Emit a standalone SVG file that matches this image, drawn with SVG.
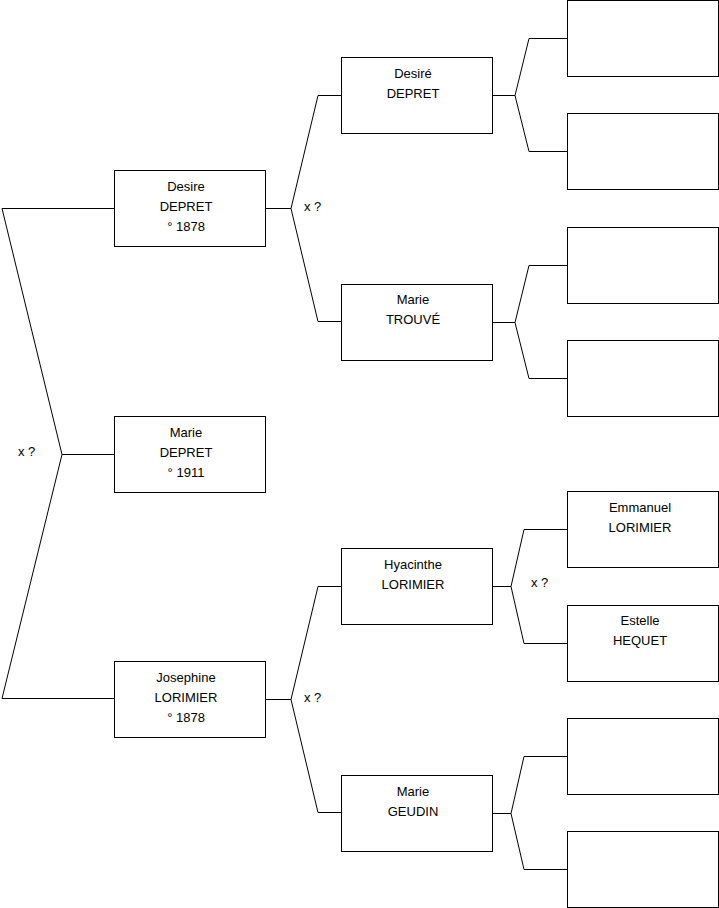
<svg xmlns="http://www.w3.org/2000/svg" width="719" height="908" viewBox="0 0 719 908">
<style>
.box{fill:#fff;stroke:#000;stroke-width:1}
.c{fill:none;stroke:#000;stroke-width:1}
text{font-family:"Liberation Sans",Arial,sans-serif;font-size:13px;fill:#000}
.m{text-anchor:middle}
</style>
<rect width="719" height="908" fill="#fff"/>
<g id="connectors">
<polyline class="c" points="114,208.5 2,208.5 62,454.5 2,698.5 114,698.5"/>
<line class="c" x1="62" y1="454.5" x2="114" y2="454.5"/>
<polyline class="c" points="341,95.5 318,95.5 291,208.5 318,321.5 341,321.5"/>
<line class="c" x1="265" y1="208.5" x2="291" y2="208.5"/>
<polyline class="c" points="341,586.5 318,586.5 291,699.5 318,812.5 341,812.5"/>
<line class="c" x1="265" y1="699.5" x2="291" y2="699.5"/>
<polyline class="c" points="567,38.5 529,38.5 515,95.5 529,151.5 567,151.5"/>
<line class="c" x1="492" y1="95.5" x2="515" y2="95.5"/>
<polyline class="c" points="567,265.5 529,265.5 515,322.5 529,378.5 567,378.5"/>
<line class="c" x1="492" y1="322.5" x2="515" y2="322.5"/>
<polyline class="c" points="567,529.5 524,529.5 511,586.5 524,643.5 567,643.5"/>
<line class="c" x1="492" y1="586.5" x2="511" y2="586.5"/>
<polyline class="c" points="567,756.5 524,756.5 511,813.5 524,869.5 567,869.5"/>
<line class="c" x1="492" y1="813.5" x2="511" y2="813.5"/>
<text x="18" y="456">x ?</text>
<text x="304" y="211">x ?</text>
<text x="304" y="702">x ?</text>
<text x="531" y="587">x ?</text>
</g>
<g id="n-desire"><rect class="box" x="114.5" y="170.5" width="151" height="76"/>
<text class="m" x="186" y="191">Desire</text><text class="m" x="186" y="211">DEPRET</text><text class="m" x="186" y="231">° 1878</text></g>
<g id="n-marie-depret"><rect class="box" x="114.5" y="416.5" width="151" height="76"/>
<text class="m" x="186" y="437">Marie</text><text class="m" x="186" y="457">DEPRET</text><text class="m" x="186" y="477">° 1911</text></g>
<g id="n-josephine"><rect class="box" x="114.5" y="661.5" width="151" height="76"/>
<text class="m" x="186" y="682">Josephine</text><text class="m" x="186" y="702">LORIMIER</text><text class="m" x="186" y="722">° 1878</text></g>
<g id="n-desire2"><rect class="box" x="341.5" y="57.5" width="151" height="76"/>
<text class="m" x="413" y="78">Desiré</text><text class="m" x="413" y="98">DEPRET</text></g>
<g id="n-marie-trouve"><rect class="box" x="341.5" y="284.5" width="151" height="76"/>
<text class="m" x="413" y="304">Marie</text><text class="m" x="413" y="324">TROUVÉ</text></g>
<g id="n-hyacinthe"><rect class="box" x="341.5" y="548.5" width="151" height="76"/>
<text class="m" x="413" y="569">Hyacinthe</text><text class="m" x="413" y="589">LORIMIER</text></g>
<g id="n-marie-geudin"><rect class="box" x="341.5" y="775.5" width="151" height="76"/>
<text class="m" x="413" y="796">Marie</text><text class="m" x="413" y="816">GEUDIN</text></g>
<g id="n-g3-1"><rect class="box" x="567.5" y="0.5" width="151" height="76"/></g>
<g id="n-g3-2"><rect class="box" x="567.5" y="113.5" width="151" height="76"/></g>
<g id="n-g3-3"><rect class="box" x="567.5" y="227.5" width="151" height="76"/></g>
<g id="n-g3-4"><rect class="box" x="567.5" y="340.5" width="151" height="76"/></g>
<g id="n-emmanuel"><rect class="box" x="567.5" y="491.5" width="151" height="76"/>
<text class="m" x="640" y="512">Emmanuel</text><text class="m" x="640" y="532">LORIMIER</text></g>
<g id="n-estelle"><rect class="box" x="567.5" y="605.5" width="151" height="76"/>
<text class="m" x="640" y="625">Estelle</text><text class="m" x="640" y="645">HEQUET</text></g>
<g id="n-g3-7"><rect class="box" x="567.5" y="718.5" width="151" height="76"/></g>
<g id="n-g3-8"><rect class="box" x="567.5" y="831.5" width="151" height="76"/></g>
</svg>
